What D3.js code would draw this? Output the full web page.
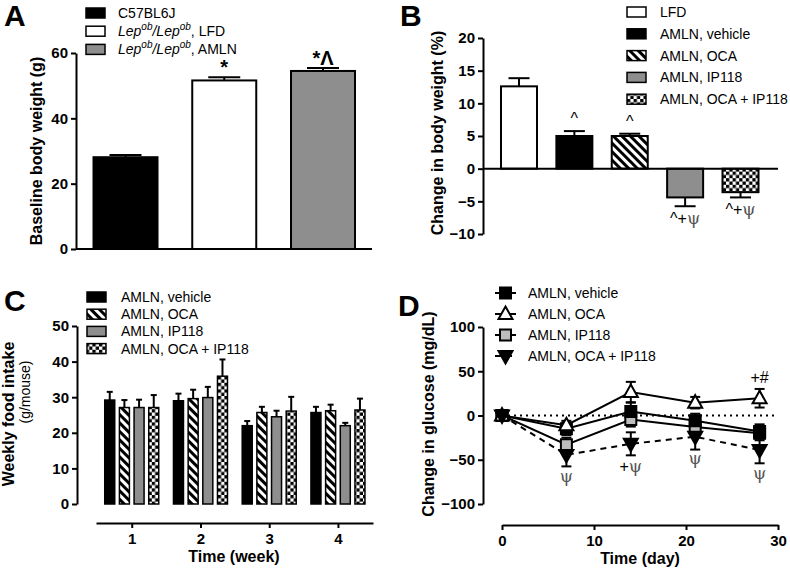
<!DOCTYPE html>
<html><head><meta charset="utf-8">
<script src="https://cdn.jsdelivr.net/npm/d3@7"></script>
<style>
body{margin:0;background:#fff;}
svg text{font-family:"Liberation Sans",Arial,sans-serif;}
</style></head>
<body><svg id="c" width="790" height="572"></svg>
<script>
// ---------- DATA ----------
// Panel A
const catsA = ["C57BL6J", "LFD", "AMLN"];
const valsA = [28.1, 51.6, 54.5];
const errA = [0.7, 1.0, 0.9];
const annA = ["", "*", "*^"];
const ticksA = [0, 20, 40, 60];
// Panel B
const catsB = ["LFD", "AMLN, vehicle", "AMLN, OCA", "AMLN, IP118", "AMLN, OCA + IP118"];
const valsB = [12.6, 5.0, 5.0, -4.4, -3.6];
const errB = [1.25, 0.75, 0.35, 1.35, 0.8];
const annB = ["", "^", "^", "^+ψ", "^+ψ"];
const ticksB = [-10, -5, 0, 5, 10, 15, 20];
// Panel C
const weeksC = [1, 2, 3, 4];
const seriesC = ["AMLN, vehicle", "AMLN, OCA", "AMLN, IP118", "AMLN, OCA + IP118"];
const vehicleC = [29.2, 29.0, 22.0, 25.7];
const ocaC = [27.1, 29.6, 25.7, 26.2];
const ip118C = [27.1, 29.9, 24.5, 22.0];
const comboC = [27.1, 35.9, 26.1, 26.4];
const vehicleCerr = [2.3, 2.0, 1.3, 1.6];
const ocaCerr = [2.1, 2.5, 1.6, 1.7];
const ip118Cerr = [2.2, 3.0, 1.7, 0.8];
const comboCerr = [3.5, 4.7, 4.0, 3.2];
const ticksC = [0, 10, 20, 30, 40, 50];
// Panel D
const daysD = [0, 7, 14, 21, 28];
const vehicleD = [0, -15, 4.5, -6, -18];
const ocaD = [0, -11, 26.5, 14.5, 19.5];
const ip118D = [0, -33, -4.5, -13, -20];
const comboD = [0, -44.5, -32, -24, -39];
const vehicleDerr = [0, 7, 10, 8, 8];
const ocaDerr = [0, 5, 11.5, 6.5, 10.5];
const ip118Derr = [0, 8, 8, 9, 8];
const comboDerr = [0, 13, 13, 14.5, 15];
const annDdays = [7, 14, 21, 28, 28];
const annDtext = ["ψ", "+ψ", "ψ", "ψ", "+#"];
const annDvals = [-68.7, -56.9, -48.4, -65.3, 43.4];
const ticksD = [-100, -50, 0, 50, 100];
const ticksDx = [0, 10, 20, 30];

// ---------- SETUP ----------
const svg = d3.select("#c");
const defs = svg.append("defs");
const stripe = defs.append("pattern").attr("id", "stripe").attr("patternUnits", "userSpaceOnUse")
  .attr("width", 6).attr("height", 6).attr("patternTransform", "rotate(-45)");
stripe.append("rect").attr("width", 6).attr("height", 6).attr("fill", "#fff");
stripe.append("rect").attr("width", 3).attr("height", 6).attr("fill", "#000");
const checker = defs.append("pattern").attr("id", "checker").attr("patternUnits", "userSpaceOnUse")
  .attr("width", 6.6).attr("height", 6.6);
checker.append("rect").attr("width", 6.6).attr("height", 6.6).attr("fill", "#fff");
checker.append("rect").attr("width", 3.3).attr("height", 3.3).attr("fill", "#000");
checker.append("rect").attr("x", 3.3).attr("y", 3.3).attr("width", 3.3).attr("height", 3.3).attr("fill", "#000");
const GREY = "#8e8e8e";
const PSI = "#555";
const fillsSeries = ["#000", "url(#stripe)", GREY, "url(#checker)"];
const TICK_FS = 15, TITLE_FS = 16;

function styleAxis(g) {
  g.selectAll("path,line").attr("stroke", "#000").attr("stroke-width", 2);
  g.selectAll("text").attr("font-size", TICK_FS).attr("font-weight", "bold").attr("fill", "#000")
    .attr("font-family", "Liberation Sans, Arial, sans-serif");
}
function yTitle(x, y, text, size, weight) {
  svg.append("text").attr("transform", `translate(${x},${y}) rotate(-90)`).attr("text-anchor", "middle")
    .attr("font-size", size || TITLE_FS).attr("font-weight", weight || "bold").text(text);
}
function letter(x, y, t) {
  svg.append("text").attr("x", x).attr("y", y).attr("font-size", 30).attr("font-weight", "bold").text(t);
}
function errBar(g, x, y0, y1, cap) {
  g.append("line").attr("x1", x).attr("x2", x).attr("y1", y0).attr("y2", y1).attr("stroke", "#000").attr("stroke-width", 2);
  g.append("line").attr("x1", x - cap / 2).attr("x2", x + cap / 2).attr("y1", y1).attr("y2", y1).attr("stroke", "#000").attr("stroke-width", 2);
}
function swatch(x, y, fill) {
  svg.append("rect").attr("x", x).attr("y", y - 5).attr("width", 19).attr("height", 10)
    .attr("fill", fill).attr("stroke", "#000").attr("stroke-width", 1.5);
}
// annotation text: psi in grey serif, other symbols black sans
function annText(sel, str, size) {
  for (const ch of str) {
    const ts = sel.append("tspan").text(ch);
    if (ch === "ψ") ts.attr("fill", PSI).attr("font-family", "DejaVu Serif, Liberation Serif, serif").attr("font-size", size + 1);
    else ts.attr("fill", "#000");
  }
}

// ---------- PANEL A ----------
letter(4, 26, "A");
const xA = d3.scalePoint().domain(catsA).range([125.5, 323]);
const yA = d3.scaleLinear().domain([0, 60]).range([249, 53]);
const bwA = 64;
const gA = svg.append("g");
const fillA = ["#000", "#fff", GREY];
catsA.forEach((c, i) => {
  errBar(gA, xA(c), yA(valsA[i]), yA(valsA[i] + errA[i]), 32);
  gA.append("rect").attr("x", xA(c) - bwA / 2).attr("y", yA(valsA[i])).attr("width", bwA)
    .attr("height", yA(0) - yA(valsA[i])).attr("fill", fillA[i]).attr("stroke", "#000").attr("stroke-width", 2);
  if (annA[i]) gA.append("text").attr("x", xA(c)).attr("y", yA(valsA[i] + errA[i]) - 3).attr("text-anchor", "middle")
    .attr("font-size", 20).attr("font-weight", "bold").text(annA[i] === "*^" ? "*\u039b" : "*");
});
svg.append("g").attr("transform", "translate(76,0)").call(d3.axisLeft(yA).tickValues(ticksA).tickSize(5).tickSizeOuter(0).tickPadding(3)).call(styleAxis);
svg.append("line").attr("x1", 76).attr("x2", 372).attr("y1", yA(0)).attr("y2", yA(0)).attr("stroke", "#000").attr("stroke-width", 2);
yTitle(42, 151, "Baseline body weight (g)");
// legend A
const legA = [
  {fill: "#000", parts: [["C57BL6J", ""]]},
  {fill: "#fff", parts: [["Lep", "i"], ["ob", "s"], ["/Lep", "i"], ["ob", "s"], [", LFD", ""]]},
  {fill: GREY, parts: [["Lep", "i"], ["ob", "s"], ["/Lep", "i"], ["ob", "s"], [", AMLN", ""]]}
];
legA.forEach((d, i) => {
  const y = 13 + i * 18.2;
  swatch(86, y, d.fill);
  const t = svg.append("text").attr("x", 118).attr("y", y + 5).attr("font-size", 14);
  let prevSup = false;
  d.parts.forEach(p => {
    const ts = t.append("tspan").text(p[0]);
    if (p[1] === "i") ts.attr("font-style", "italic");
    if (p[1] === "s") { ts.attr("font-style", "italic").attr("font-size", 10).attr("dy", -6); }
    else if (prevSup) ts.attr("dy", 6);
    prevSup = p[1] === "s";
  });
});

// ---------- PANEL B ----------
letter(400, 26, "B");
const xB = d3.scalePoint().domain(catsB).range([519, 740.5]);
const yB = d3.scaleLinear().domain([-10, 20]).range([234, 38]);
const bwB = 36;
const fillB = ["#fff", "#000", "url(#stripe)", GREY, "url(#checker)"];
const gB = svg.append("g");
catsB.forEach((c, i) => {
  const v = valsB[i], e = v >= 0 ? errB[i] : -errB[i];
  errBar(gB, xB(c), yB(v), yB(v + e), 21);
  gB.append("rect").attr("x", xB(c) - bwB / 2).attr("y", Math.min(yB(v), yB(0))).attr("width", bwB)
    .attr("height", Math.abs(yB(0) - yB(v))).attr("fill", fillB[i]).attr("stroke", "#000").attr("stroke-width", 2);
  if (annB[i]) {
    const yy = v >= 0 ? yB(v + e) - 7 : yB(v + e) + 18;
    annText(gB.append("text").attr("x", xB(c)).attr("y", yy).attr("text-anchor", "middle").attr("font-size", 16), annB[i], 16);
  }
});
svg.append("g").attr("transform", "translate(483,0)").call(d3.axisLeft(yB).tickValues(ticksB).tickSize(5).tickSizeOuter(0).tickPadding(3)).call(styleAxis);
svg.append("line").attr("x1", 483).attr("x2", 778).attr("y1", yB(0)).attr("y2", yB(0)).attr("stroke", "#000").attr("stroke-width", 2);
yTitle(443, 133, "Change in body weight (%)");
catsB.forEach((c, i) => {
  const y = 12 + i * 21.8;
  swatch(627, y, fillB[i]);
  svg.append("text").attr("x", 660).attr("y", y + 5).attr("font-size", 14).text(c);
});

// ---------- PANEL C ----------
letter(4, 311, "C");
const xC = d3.scaleLinear().domain([0.48, 4.51]).range([96, 373]);
const inner = d3.scalePoint().domain(seriesC).range([-22, 22]);
const yC = d3.scaleLinear().domain([0, 50]).range([504, 326]);
const bwC = 10;
const valsC = [vehicleC, ocaC, ip118C, comboC];
const errsC = [vehicleCerr, ocaCerr, ip118Cerr, comboCerr];
const gC = svg.append("g");
weeksC.forEach((w, wi) => {
  seriesC.forEach((s, si) => {
    const cx = xC(w) + inner(s), v = valsC[si][wi];
    errBar(gC, cx, yC(v), yC(v + errsC[si][wi]), 6);
    gC.append("rect").attr("x", cx - bwC / 2).attr("y", yC(v)).attr("width", bwC).attr("height", yC(0) - yC(v))
      .attr("fill", fillsSeries[si]).attr("stroke", "#000").attr("stroke-width", 1.5);
  });
});
svg.append("g").attr("transform", "translate(77,0)").call(d3.axisLeft(yC).tickValues(ticksC).tickSize(5).tickSizeOuter(0).tickPadding(3)).call(styleAxis);
svg.append("g").attr("transform", "translate(0,523)").call(d3.axisBottom(xC).tickValues(weeksC).tickFormat(d3.format("d")).tickSize(5).tickSizeOuter(0).tickPadding(5)).call(styleAxis);
svg.append("text").attr("x", 234).attr("y", 562).attr("text-anchor", "middle").attr("font-size", TITLE_FS).attr("font-weight", "bold").text("Time (week)");
yTitle(14, 414, "Weekly food intake");
yTitle(30, 392, "(g/mouse)", 14, "normal");
seriesC.forEach((s, i) => {
  const y = 297 + i * 17.2;
  swatch(87, y, fillsSeries[i]);
  svg.append("text").attr("x", 121).attr("y", y + 5).attr("font-size", 14).text(s);
});

// ---------- PANEL D ----------
letter(398, 316, "D");
const xD = d3.scaleLinear().domain([0, 30]).range([502, 778]);
const yD = d3.scaleLinear().domain([-100, 100]).range([504, 327]);
svg.append("line").attr("x1", xD(0)).attr("x2", xD(30)).attr("y1", yD(0)).attr("y2", yD(0))
  .attr("stroke", "#000").attr("stroke-width", 2).attr("stroke-dasharray", "2,4");
const seriesD = [
  {name: "AMLN, vehicle", vals: vehicleD, err: vehicleDerr, shape: "square", fill: "#000", dash: null},
  {name: "AMLN, OCA", vals: ocaD, err: ocaDerr, shape: "tri", fill: "#fff", dash: null},
  {name: "AMLN, IP118", vals: ip118D, err: ip118Derr, shape: "square", fill: "#bdbdbd", dash: null},
  {name: "AMLN, OCA + IP118", vals: comboD, err: comboDerr, shape: "tridown", fill: "#000", dash: "6,5"}
];
function marker(g, shape, x, y, fill) {
  let p;
  if (shape === "square") p = `M${x - 5.5},${y - 5.5}h11v11h-11z`;
  else if (shape === "tri") p = `M${x},${y - 7.5}L${x + 7},${y + 5}L${x - 7},${y + 5}Z`;
  else p = `M${x},${y + 7.5}L${x + 7},${y - 5}L${x - 7},${y - 5}Z`;
  g.append("path").attr("d", p).attr("fill", fill).attr("stroke", "#000").attr("stroke-width", 2);
}
const line = d3.line().x(d => xD(d[0])).y(d => yD(d[1]));
const gD = svg.append("g");
const drawOrder = [2, 0, 1, 3];
drawOrder.forEach(si => {
  const s = seriesD[si];
  gD.append("path").attr("d", line(daysD.map((d, i) => [d, s.vals[i]]))).attr("fill", "none")
    .attr("stroke", "#000").attr("stroke-width", 2).attr("stroke-dasharray", s.dash);
});
drawOrder.forEach(si => {
  const s = seriesD[si];
  daysD.forEach((d, i) => {
    if (s.err[i] > 0) {
      errBar(gD, xD(d), yD(s.vals[i]), yD(s.vals[i] + s.err[i]), 10);
      errBar(gD, xD(d), yD(s.vals[i]), yD(s.vals[i] - s.err[i]), 10);
    }
  });
});
drawOrder.forEach(si => {
  const s = seriesD[si];
  daysD.forEach((d, i) => marker(gD, s.shape, xD(d), yD(s.vals[i]), s.fill));
});
annDdays.forEach((day, i) => {
  const t = svg.append("text").attr("x", xD(day)).attr("y", yD(annDvals[i])).attr("text-anchor", "middle")
    .attr("dominant-baseline", "central").attr("font-size", 16);
  annText(t, annDtext[i], 16);
});
svg.append("g").attr("transform", "translate(483,0)").call(d3.axisLeft(yD).tickValues(ticksD).tickSize(5).tickSizeOuter(0).tickPadding(3)).call(styleAxis);
svg.append("g").attr("transform", "translate(0,525)").call(d3.axisBottom(xD).tickValues(ticksDx).tickSize(5).tickSizeOuter(0).tickPadding(5)).call(styleAxis);
svg.append("text").attr("x", 640).attr("y", 564).attr("text-anchor", "middle").attr("font-size", TITLE_FS).attr("font-weight", "bold").text("Time (day)");
yTitle(434, 414, "Change in glucose (mg/dL)");
seriesD.forEach((s, i) => {
  const y = 293 + i * 21;
  svg.append("line").attr("x1", 495).attr("x2", 516).attr("y1", y).attr("y2", y).attr("stroke", "#000")
    .attr("stroke-width", 2).attr("stroke-dasharray", s.dash);
  marker(svg, s.shape, 505.5, y, s.fill);
  svg.append("text").attr("x", 528).attr("y", y + 5).attr("font-size", 14).text(s.name);
});
</script></body></html>
